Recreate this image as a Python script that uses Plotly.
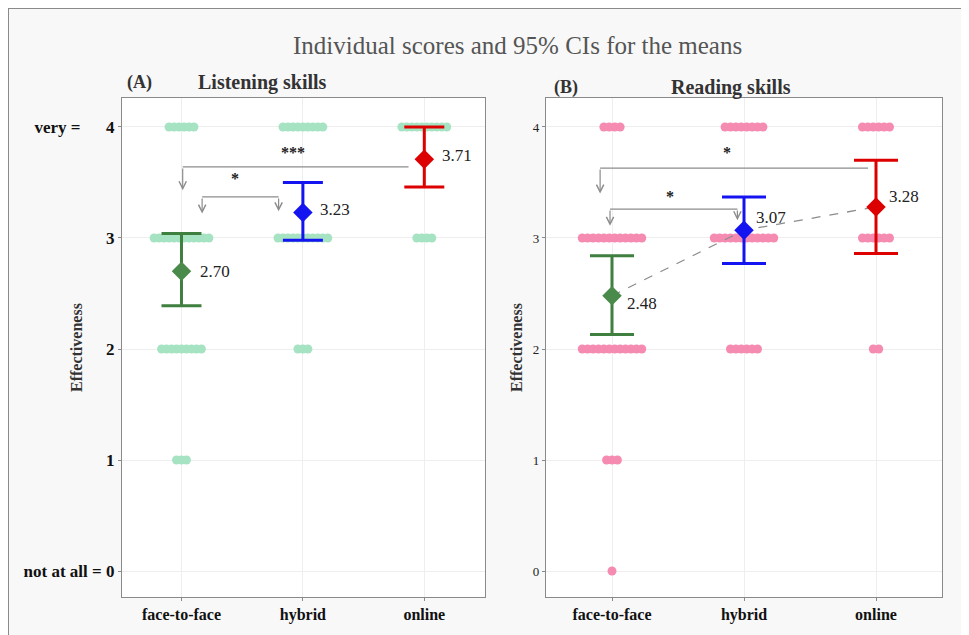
import plotly.graph_objects as go

# ---------------- data ----------------
categories = ["face-to-face", "hybrid", "online"]
score_levels = [4, 3, 2, 1, 0]

# number of individual respondents at each score level (4,3,2,1,0)
listen_counts_f2f = [6, 12, 9, 3, 0]
listen_counts_hybrid = [9, 11, 3, 0, 0]
listen_counts_online = [10, 4, 0, 0, 0]

read_counts_f2f = [4, 12, 12, 3, 1]
read_counts_hybrid = [8, 12, 6, 0, 0]
read_counts_online = [6, 6, 2, 0, 0]

listen_means = [2.70, 3.23, 3.71]
listen_ci_low = [2.39, 2.98, 3.46]
listen_ci_high = [3.04, 3.50, 4.00]

read_means = [2.48, 3.07, 3.28]
read_ci_low = [2.13, 2.77, 2.86]
read_ci_high = [2.84, 3.37, 3.70]

listen_yticks = ["not at all = 0", "1", "2", "3", "very =\u00a0\u00a0\u00a0\u00a0\u00a0\u00a04"]
read_yticks = ["0", "1", "2", "3", "4"]

# ---------------- styling ----------------
FONT = "Liberation Serif, Times New Roman, DejaVu Serif, serif"
GROUP_COLORS = ["#3f7f3f", "#1414f0", "#dd0000"]
DIAMOND_COLORS = ["#4a8a4a", "#1414f0", "#dd0000"]
LISTEN_DOT = "#a6e3c3"
READ_DOT = "#f58bb0"
ARROW_GRAY = "#8c8c8c"
GRID = "#eeeeee"

# page is 969x635; the browser body has an 8px margin, so the figure starts at (8, 8)
OFF = 8
W, H = 969 - OFF, 635 - OFF


def paper_x(px):
    return (px - OFF) / W


def paper_y(py):
    return 1 - (py - OFF) / H


def dot_positions(groups, spacing):
    xs, ys = [], []
    for gi, counts in enumerate(groups):
        for score, n in zip(score_levels, counts):
            for k in range(n):
                xs.append(gi + 1 + (k - (n - 1) / 2) * spacing)
                ys.append(score)
    return xs, ys


fig = go.Figure()

panels = [
    dict(xa="x", ya="y", groups=[listen_counts_f2f, listen_counts_hybrid, listen_counts_online],
         means=listen_means, lo=listen_ci_low, hi=listen_ci_high, dot=LISTEN_DOT,
         spacing=0.041, capw=20, dashed=False,
         label_shift=[(17, 0), (15, 3), (16, 4)]),
    dict(xa="x2", ya="y2", groups=[read_counts_f2f, read_counts_hybrid, read_counts_online],
         means=read_means, lo=read_ci_low, hi=read_ci_high, dot=READ_DOT,
         spacing=0.041, capw=22, dashed=True,
         label_shift=[(13, -8), (10, 13), (11, 10)]),
]

for p in panels:
    xs, ys = dot_positions(p["groups"], p["spacing"])
    fig.add_trace(go.Scatter(x=xs, y=ys, mode="markers", xaxis=p["xa"], yaxis=p["ya"],
                             marker=dict(size=9, color=p["dot"], line=dict(width=0)),
                             showlegend=False, hoverinfo="skip"))
    if p["dashed"]:
        fig.add_trace(go.Scatter(x=[1, 2, 3], y=p["means"], mode="lines", xaxis=p["xa"], yaxis=p["ya"],
                                 line=dict(color=ARROW_GRAY, width=1.3, dash="dash"),
                                 showlegend=False, hoverinfo="skip"))
    for gi in range(3):
        m = p["means"][gi]
        fig.add_trace(go.Scatter(
            x=[gi + 1], y=[m], mode="markers", xaxis=p["xa"], yaxis=p["ya"],
            marker=dict(symbol="diamond", size=15, color=DIAMOND_COLORS[gi], line=dict(width=0)),
            error_y=dict(type="data", symmetric=False, array=[p["hi"][gi] - m],
                         arrayminus=[m - p["lo"][gi]], color=GROUP_COLORS[gi],
                         thickness=3, width=p["capw"]),
            showlegend=False, hoverinfo="skip"))
        dx, dy = p["label_shift"][gi]
        fig.add_annotation(x=gi + 1, y=m, xref=p["xa"], yref=p["ya"], text=f"{m:.2f}",
                           showarrow=False, xanchor="left", yanchor="middle", xshift=dx, yshift=dy,
                           font=dict(family=FONT, size=17, color="#222222"))

# ---------------- significance brackets ----------------
# (x axis, y axis, horizontal y, x start, x end, [(arrow x, tip y)], label, label x, label y)
brackets = [
    ("x", "y", 3.64, 2.87, 1.01, [(1.01, 3.43)], "***", 1.92, 3.77),
    ("x", "y", 3.37, 1.17, 1.80, [(1.17, 3.22), (1.80, 3.24)], "*", 1.44, 3.54),
    ("x2", "y2", 3.63, 2.94, 0.91, [(0.91, 3.40)], "*", 1.87, 3.77),
    ("x2", "y2", 3.26, 0.985, 1.95, [(0.985, 3.11), (1.95, 3.16)], "*", 1.44, 3.37),
]
for xa, ya, hy, x0, x1, arrows, lab, lx, ly in brackets:
    fig.add_shape(type="line", xref=xa, yref=ya, x0=x0, x1=x1, y0=hy, y1=hy,
                  line=dict(color=ARROW_GRAY, width=1.3))
    for ax_, tip in arrows:
        fig.add_annotation(x=ax_, y=tip, ax=ax_, ay=hy, xref=xa, yref=ya, axref=xa, ayref=ya,
                           text="", showarrow=True, arrowhead=5, arrowsize=1.2, arrowwidth=1.2,
                           arrowcolor=ARROW_GRAY)
    fig.add_annotation(x=lx, y=ly, xref=xa, yref=ya, text=f"<b>{lab}</b>", showarrow=False,
                       xanchor="center", yanchor="middle",
                       font=dict(family=FONT, size=16, color="#222222"))

# ---------------- titles ----------------
def label(px, py, text, size, color="#333333", angle=0):
    fig.add_annotation(x=paper_x(px), y=paper_y(py), xref="paper", yref="paper", text=text,
                       showarrow=False, xanchor="center", yanchor="middle", textangle=angle,
                       font=dict(family=FONT, size=size, color=color))


label(518, 46, "Individual scores and 95% CIs for the means", 25, "#555555")
label(139, 83, "<b>(A)</b>", 18)
label(263, 83, "<b>Listening skills</b>", 20)
label(566, 87, "<b>(B)</b>", 18)
label(731, 87, "<b>Reading skills</b>", 20)
for xpx in (76, 516):
    label(xpx, 348, "<b>Effectiveness</b>", 16, angle=-90)

# outer frame (top and left edges)
fig.add_shape(type="line", xref="paper", yref="paper", x0=0, x1=1, y0=1, y1=1,
              line=dict(color="#8a8a8a", width=2), layer="below")
fig.add_shape(type="line", xref="paper", yref="paper", x0=0, x1=0, y0=0, y1=1,
              line=dict(color="#8a8a8a", width=2), layer="below")

axis_common = dict(showgrid=True, gridcolor=GRID, zeroline=False, showline=True, mirror=True,
                   linecolor="#8a8a8a", linewidth=1.2, ticks="outside", ticklen=3,
                   tickcolor="#8a8a8a")

fig.update_layout(
    width=W, height=H,
    margin=dict(l=0, r=0, t=0, b=0),
    paper_bgcolor="#f8f8f8", plot_bgcolor="white",
    showlegend=False,
    xaxis=dict(domain=[paper_x(122), paper_x(485)], range=[0.51, 3.5], anchor="y",
               tickvals=[1, 2, 3], ticktext=[f"<b>{c}</b>" for c in categories],
               tickfont=dict(family=FONT, size=16, color="#111111"), **axis_common),
    yaxis=dict(domain=[paper_y(597), paper_y(98)], range=[-0.234, 4.261], anchor="x",
               tickvals=[0, 1, 2, 3, 4], ticktext=[f"<b>{t}</b>" for t in listen_yticks],
               tickfont=dict(family=FONT, size=17, color="#111111"), **axis_common),
    xaxis2=dict(domain=[paper_x(546), paper_x(942)], range=[0.5, 3.5], anchor="y2",
                tickvals=[1, 2, 3], ticktext=[f"<b>{c}</b>" for c in categories],
                tickfont=dict(family=FONT, size=16, color="#111111"), **axis_common),
    yaxis2=dict(domain=[paper_y(597), paper_y(98)], range=[-0.234, 4.261], anchor="x2",
                tickvals=[0, 1, 2, 3, 4], ticktext=read_yticks,
                tickfont=dict(family=FONT, size=13, color="#222222"), **axis_common),
)

fig.write_html("out.html")
